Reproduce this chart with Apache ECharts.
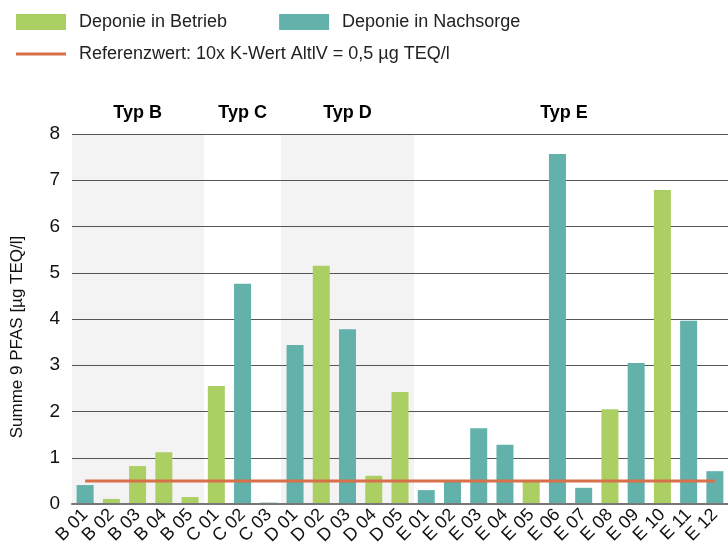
<!DOCTYPE html>
<html>
<head>
<meta charset="utf-8">
<script src="https://cdn.jsdelivr.net/npm/echarts@6/dist/echarts.min.js"></script>
<style>
  html, body { margin: 0; padding: 0; background: #fff; }
  #chart { width: 728px; height: 554px; }
</style>
</head>
<body>
<div id="chart"></div>
<script>
  // Deponien (Kategorien) und Gruppen
  var categories = ['B 01', 'B 02', 'B 03', 'B 04', 'B 05',
                    'C 01', 'C 02', 'C 03',
                    'D 01', 'D 02', 'D 03', 'D 04', 'D 05',
                    'E 01', 'E 02', 'E 03', 'E 04', 'E 05', 'E 06', 'E 07', 'E 08', 'E 09', 'E 10', 'E 11', 'E 12'];
  var groups = ['B', 'B', 'B', 'B', 'B', 'C', 'C', 'C', 'D', 'D', 'D', 'D', 'D',
                'E', 'E', 'E', 'E', 'E', 'E', 'E', 'E', 'E', 'E', 'E', 'E'];
  var groupLabels = { B: 'Typ B', C: 'Typ C', D: 'Typ D', E: 'Typ E' };
  var shadedGroups = ['B', 'D'];

  // Summe 9 PFAS [µg TEQ/l], '-' = andere Kategorie
  var betrieb = ['-', 0.11, 0.82, 1.12, 0.15, 2.55, '-', '-',
                 '-', 5.15, '-', 0.61, 2.42,
                 '-', '-', '-', '-', 0.48, '-', '-', 2.05, '-', 6.79, '-', '-'];
  var nachsorge = [0.41, '-', '-', '-', '-', '-', 4.76, 0.03,
                   3.44, '-', 3.78, '-', '-',
                   0.30, 0.48, 1.64, 1.28, '-', 7.57, 0.35, '-', 3.05, '-', 3.96, 0.71];
  var referenzwert = 0.5;
  var yTicks = { min: 0, max: 8, interval: 1 };

  var bgValues = groups.map(function (g) {
    return shadedGroups.indexOf(g) >= 0 ? yTicks.max : '-';
  });
  var refValues = categories.map(function () { return referenzwert; });

  // Gruppen-Beschriftung über markArea (von erster bis letzter Kategorie)
  var groupAreas = Object.keys(groupLabels).map(function (g) {
    var first = groups.indexOf(g), last = groups.lastIndexOf(g);
    return [{ name: groupLabels[g], xAxis: categories[first] }, { xAxis: categories[last] }];
  });

  var fontFamily = '"Liberation Sans", Arial, sans-serif';
  var chart = echarts.init(document.getElementById('chart'));
  chart.setOption({
    animation: false,
    textStyle: { fontFamily: fontFamily },
    legend: [{
      left: 16, top: 13, padding: 0,
      itemWidth: 50, itemHeight: 16, itemGap: 52,
      icon: 'rect',
      data: ['Deponie in Betrieb', 'Deponie in Nachsorge'],
      textStyle: { fontSize: 18, color: '#222', padding: [0, 0, 0, 8] }
    }, {
      left: 16, top: 45, padding: 0,
      itemWidth: 50, itemHeight: 3,
      icon: 'rect',
      data: ['Referenzwert: 10x K-Wert AltlV = 0,5 µg TEQ/l'],
      textStyle: { fontSize: 18, color: '#222', padding: [0, 0, 0, 8] }
    }],
    grid: { left: 72, right: -3, top: 134, bottom: 50 },
    xAxis: [{
      type: 'category',
      data: categories,
      z: 3,
      axisLine: { lineStyle: { color: '#777', width: 2 } },
      axisTick: { show: false },
      axisLabel: { rotate: 45, fontSize: 18, color: '#111', margin: 8, interval: 0 }
    }, {
      type: 'category',
      data: categories,
      show: false
    }],
    yAxis: {
      type: 'value',
      min: yTicks.min, max: yTicks.max, interval: yTicks.interval,
      z: 1,
      name: 'Summe 9 PFAS [µg TEQ/l]',
      nameLocation: 'middle',
      nameRotate: 90,
      nameGap: 46,
      nameTextStyle: { fontSize: 17, color: '#111', padding: [0, 36, 0, 0] },
      axisLabel: { fontSize: 19, color: '#111', margin: 12 },
      axisLine: { show: false },
      axisTick: { show: false },
      splitLine: { lineStyle: { color: '#555', width: 1 } }
    },
    series: [{
      name: 'bg',
      type: 'bar',
      xAxisIndex: 1,
      data: bgValues,
      barWidth: 28,
      z: 0,
      silent: true,
      itemStyle: { color: '#f3f3f3' },
      markArea: {
        silent: true,
        itemStyle: { color: 'rgba(0,0,0,0)' },
        label: {
          show: true, position: 'top', distance: 12,
          fontSize: 18, fontWeight: 900, color: '#000'
        },
        data: groupAreas
      }
    }, {
      name: 'Deponie in Betrieb',
      type: 'bar',
      data: betrieb,
      barWidth: 17,
      barGap: '-100%',
      itemStyle: { color: '#abcf63' }
    }, {
      name: 'Deponie in Nachsorge',
      type: 'bar',
      data: nachsorge,
      barWidth: 17,
      barGap: '-100%',
      itemStyle: { color: '#62b1ab' }
    }, {
      name: 'Referenzwert: 10x K-Wert AltlV = 0,5 µg TEQ/l',
      type: 'line',
      data: refValues,
      symbol: 'none',
      z: 4,
      lineStyle: { color: '#d8714a', width: 3 },
      itemStyle: { color: '#d8714a' }
    }]
  });
</script>
</body>
</html>
